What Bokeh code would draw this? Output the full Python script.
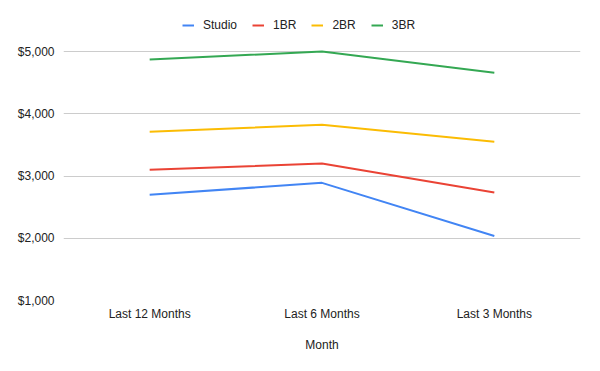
from bokeh.plotting import figure
from bokeh.models import Legend, LegendItem, NumeralTickFormatter, FixedTicker
from bokeh.embed import file_html
from bokeh.resources import INLINE

months = ["Last 12 Months", "Last 6 Months", "Last 3 Months"]
studio = [2700, 2890, 2035]
br1 = [3100, 3200, 2735]
br2 = [3710, 3825, 3550]
br3 = [4870, 5000, 4660]
series_names = ["Studio", "1BR", "2BR", "3BR"]
colors = ["#4285F4", "#EA4335", "#FBBC04", "#34A853"]
y_ticks = [1000, 2000, 3000, 4000, 5000]

FONT = "Liberation Sans"

# frame runs from y=10 to y=300 px; $1,000 at 300 px, $5,000 at 51 px
y_top = 1000 + 4000 * 290 / 249

p = figure(x_range=months, y_range=(1000, y_top), width=600, height=371,
           output_backend="svg", toolbar_location=None,
           min_border_left=63, min_border_right=20, min_border_top=10, min_border_bottom=71)
p.outline_line_color = None
p.background_fill_color = "white"

items = []
for name, vals, c in zip(series_names, [studio, br1, br2, br3], colors):
    r = p.line(months, vals, line_color=c, line_width=2)
    items.append(LegendItem(label=name, renderers=[r]))

p.yaxis.ticker = FixedTicker(ticks=y_ticks)
p.yaxis.formatter = NumeralTickFormatter(format="$0,0")
p.ygrid.grid_line_color = "#cccccc"
p.ygrid.grid_line_width = 1
p.xgrid.grid_line_color = None

for ax in [p.xaxis[0], p.yaxis[0]]:
    ax.axis_line_color = None
    ax.major_tick_line_color = None
    ax.minor_tick_line_color = None
    ax.major_label_text_font = FONT
    ax.major_label_text_font_size = "12px"
    ax.major_label_text_color = "#222222"

p.yaxis.major_label_standoff = 3
p.xaxis.major_label_standoff = 0
p.xaxis.axis_label = "Month"
p.xaxis.axis_label_text_font = FONT
p.xaxis.axis_label_text_font_size = "12px"
p.xaxis.axis_label_text_font_style = "normal"
p.xaxis.axis_label_text_color = "#222222"
p.xaxis.axis_label_standoff = 14

legend = Legend(items=items,
                orientation="horizontal", location=(119, 268),
                padding=0, margin=0, spacing=15, label_standoff=9,
                glyph_width=12, glyph_height=14, label_height=14,
                label_text_font=FONT, label_text_font_size="12px",
                label_text_color="#222222",
                border_line_color=None, background_fill_alpha=0)
p.add_layout(legend, "center")

open("out.html", "w").write(file_html(p, INLINE))
